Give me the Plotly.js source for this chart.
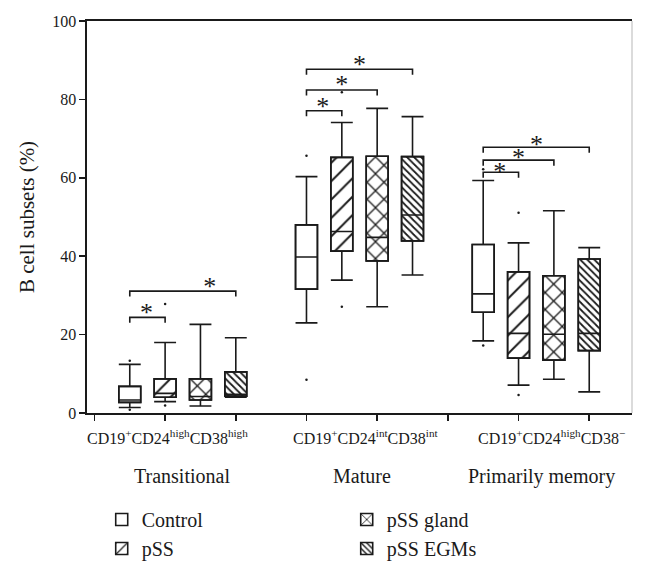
<!DOCTYPE html>
<html>
<head>
<meta charset="utf-8">
<script src="https://cdn.plot.ly/plotly-3.0.1.min.js"></script>
<style>html,body{margin:0;padding:0;background:#fff;}</style>
</head>
<body>
<div id="chart" style="width:646px;height:573px;"></div>
<script>
// ---- data ----
var seriesNames = ["Control", "pSS", "pSS gland", "pSS EGMs"];
var groupNames = ["Transitional", "Mature", "Primarily memory"];
var subsetLabels = ["CD19<sup>+</sup>CD24<sup>high</sup>CD38<sup>high</sup>",
                    "CD19<sup>+</sup>CD24<sup>int</sup>CD38<sup>int</sup>",
                    "CD19<sup>+</sup>CD24<sup>high</sup>CD38<sup>\u2212</sup>"];

// box positions on the numeric x axis (group of 4, one empty slot between groups)
var slotsControl = [0, 5, 10];
var slotsPSS     = [1, 6, 11];
var slotsGland   = [2, 7, 12];
var slotsEGMs    = [3, 8, 13];

var controlUpper  = [12.4, 60.3, 59.3];
var controlQ3     = [6.8, 48.0, 43.0];
var controlMedian = [3.3, 39.8, 30.4];
var controlQ1     = [2.7, 31.6, 25.7];
var controlLower  = [1.4, 23.0, 18.4];

var pssUpper  = [18.0, 74.1, 43.4];
var pssQ3     = [8.7, 65.2, 36.0];
var pssMedian = [5.0, 46.3, 20.3];
var pssQ1     = [4.0, 41.3, 14.0];
var pssLower  = [2.9, 33.9, 7.1];

var glandUpper  = [22.6, 77.7, 51.6];
var glandQ3     = [8.7, 65.5, 35.0];
var glandMedian = [4.2, 44.8, 20.1];
var glandQ1     = [3.3, 38.8, 13.5];
var glandLower  = [1.8, 27.1, 8.6];

var egmsUpper  = [19.2, 75.6, 42.2];
var egmsQ3     = [10.5, 65.4, 39.3];
var egmsMedian = [4.8, 50.5, 20.3];
var egmsQ1     = [4.3, 43.9, 15.9];
var egmsLower  = [4.0, 35.2, 5.4];

// outlier dots
var outlierX = [0, 0, 5, 5, 10, 10, 1, 1, 6, 6, 11, 11];
var outlierY = [13.3, 0.8, 65.6, 8.5, 62.2, 17.2, 27.8, 1.9, 81.8, 27.1, 51.1, 4.6];

// significance brackets
var bracketLeft  = [0, 0, 5, 5, 5, 10, 10, 10];
var bracketRight = [1, 3, 6, 7, 8, 11, 12, 13];
var bracketY     = [24.4, 31.1, 77.1, 82.4, 87.7, 61.4, 64.5, 67.8];
var starX        = [0.47, 2.26, 5.46, 6.0, 6.5, 10.47, 11.0, 11.51];
var starY        = [26.8, 33.4, 79.4, 84.8, 90.1, 62.8, 66.2, 69.6];
var starText     = ["*", "*", "*", "*", "*", "*", "*", "*"];

// ---- styling ----
var FONT = "Liberation Serif, Times New Roman, serif";
var INK = "#1a1a1a";
var BOXW = 0.62;
var LW = 1.6;
var drop = 1.4;
var starShift = 1.6; // glyph sits high in its line box

function diff(a, b) { return a.map(function (v, i) { return v - b[i]; }); }

var series = [
  {name: seriesNames[0], x: slotsControl, up: controlUpper, q3: controlQ3, med: controlMedian, q1: controlQ1, lo: controlLower, shape: "", size: 8, sol: 0.2, rank: 1},
  {name: seriesNames[1], x: slotsPSS, up: pssUpper, q3: pssQ3, med: pssMedian, q1: pssQ1, lo: pssLower, shape: "/", size: 13, sol: 0.15, rank: 3},
  {name: seriesNames[2], x: slotsGland, up: glandUpper, q3: glandQ3, med: glandMedian, q1: glandQ1, lo: glandLower, shape: "x", size: 12, sol: 0.2, rank: 2},
  {name: seriesNames[3], x: slotsEGMs, up: egmsUpper, q3: egmsQ3, med: egmsMedian, q1: egmsQ1, lo: egmsLower, shape: "\\", size: 5, sol: 0.35, rank: 4}
];

var traces = [];
series.forEach(function (s) {
  traces.push({
    type: "bar", name: s.name, x: s.x, base: s.q1, y: diff(s.q3, s.q1),
    width: BOXW, legendrank: s.rank, hoverinfo: "skip",
    marker: {color: "white",
             pattern: {shape: s.shape, fgcolor: INK, bgcolor: "white", size: s.size, solidity: s.sol, fillmode: "replace"},
             line: {color: INK, width: LW}}
  });
  traces.push({
    type: "box", name: s.name, x: s.x, q1: s.q1, median: s.med, q3: s.q3,
    lowerfence: s.lo, upperfence: s.up, orientation: "v",
    boxpoints: false, width: BOXW, whiskerwidth: 1, showlegend: false,
    fillcolor: "rgba(0,0,0,0)", line: {color: INK, width: LW}, hoverinfo: "skip"
  });
});

traces.push({
  type: "scatter", mode: "markers", x: outlierX, y: outlierY, showlegend: false,
  marker: {color: INK, size: 2.5}, hoverinfo: "skip"
});

var bx = [], by = [];
for (var i = 0; i < bracketLeft.length; i++) {
  bx.push(bracketLeft[i], bracketLeft[i], bracketRight[i], bracketRight[i], null);
  by.push(bracketY[i] - drop, bracketY[i], bracketY[i], bracketY[i] - drop, null);
}
traces.push({
  type: "scatter", mode: "lines", x: bx, y: by, showlegend: false,
  line: {color: INK, width: LW}, hoverinfo: "skip", connectgaps: false
});
traces.push({
  type: "scatter", mode: "text", x: starX, y: starY.map(function (v) { return v - starShift; }),
  text: starText, showlegend: false,
  textposition: "middle center", textfont: {family: FONT, size: 26, color: INK}, hoverinfo: "skip"
});

var labelLine1X = [1.07, 6.68, 11.92];
var labelLine2X = [1.47, 6.57, 11.66];
var annotations = [];
for (var g = 0; g < 3; g++) {
  annotations.push({xref: "x", yref: "paper", x: labelLine1X[g], y: -0.061, yanchor: "middle",
    text: subsetLabels[g], showarrow: false, font: {family: FONT, size: 16, color: INK}});
  annotations.push({xref: "x", yref: "paper", x: labelLine2X[g], y: -0.161, yanchor: "middle",
    text: groupNames[g], showarrow: false, font: {family: FONT, size: 20, color: INK}});
}

var layout = {
  width: 646, height: 573,
  margin: {l: 87, r: 14, t: 21, b: 160, autoexpand: false},
  paper_bgcolor: "white", plot_bgcolor: "white",
  barmode: "overlay", boxmode: "overlay",
  font: {family: FONT, color: INK},
  xaxis: {range: [-1.21, 14.21], tickvals: [-1, 1, 3, 5, 7, 9, 11, 13], showticklabels: false,
          ticks: "outside", ticklen: 6, tickwidth: LW, tickcolor: INK,
          showline: true, linecolor: INK, linewidth: LW, mirror: true,
          showgrid: false, zeroline: false},
  yaxis: {range: [0, 100], dtick: 20, ticks: "outside", ticklen: 6, tickwidth: LW, tickcolor: INK,
          showline: true, linecolor: INK, linewidth: LW, showgrid: false, zeroline: false,
          tickfont: {family: FONT, size: 16, color: INK},
          title: {text: "B cell subsets (%)", font: {family: FONT, size: 21, color: INK}, standoff: 12}},
  legend: {orientation: "h", x: 0.027, xanchor: "left", y: -0.222, yanchor: "top",
           entrywidth: 200, entrywidthmode: "pixels", traceorder: "normal",
           font: {family: FONT, size: 20, color: INK}, bgcolor: "rgba(0,0,0,0)"},
  shapes: [{type: "line", xref: "paper", yref: "paper", x0: 1, x1: 1, y0: 0, y1: 1,
            line: {color: "#cfcfcf", width: 1.5}}],
  annotations: annotations
};

Plotly.newPlot("chart", traces, layout, {displayModeBar: false, staticPlot: true});
</script>
</body>
</html>
